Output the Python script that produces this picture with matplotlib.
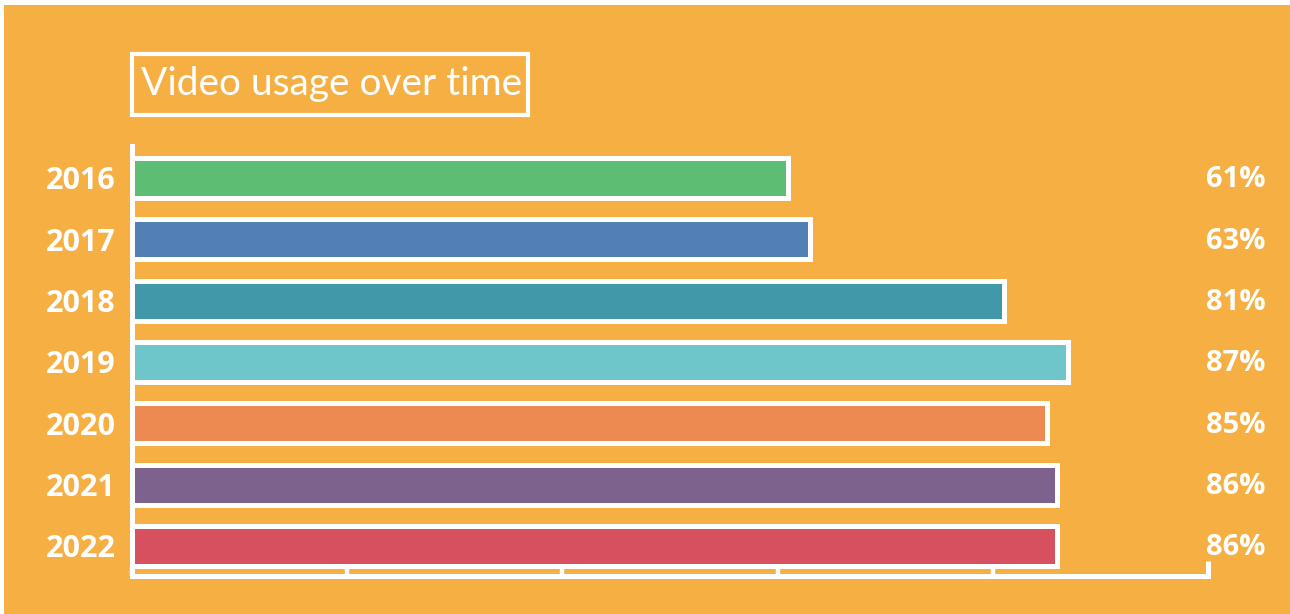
import matplotlib.pyplot as plt
from matplotlib.patches import Rectangle

# data
YEARS = ["2016", "2017", "2018", "2019", "2020", "2021", "2022"]
USAGE = [61, 63, 81, 87, 85, 86, 86]
BAR_COLORS = ["#5DBD73", "#527FB5", "#4098A8", "#6EC5CA", "#EC8A52", "#7C628C", "#D6505F"]
TITLE = "Video usage over time"

BG = "#F5AF43"
W, H = 1290, 614

fig = plt.figure(figsize=(W / 100, H / 100), dpi=100, facecolor=BG)

# thin white strips at the top and left edge, like the screenshot
fig.patches.append(Rectangle((0, 1 - 5 / H), 1, 5 / H, transform=fig.transFigure,
                             facecolor="white", edgecolor="none"))
fig.patches.append(Rectangle((0, 0), 3.5 / W, 1, transform=fig.transFigure,
                             facecolor="white", edgecolor="none"))

# axes: x from 0 to 100 spans px 132..1208, y spans px 146..576
ax = fig.add_axes([132 / W, 1 - 576 / H, (1208 - 132) / W, (576 - 146) / H])
ax.set_facecolor(BG)

ypos = list(range(len(YEARS)))
ax.barh(ypos, USAGE, height=0.65, color=BAR_COLORS, edgecolor="white",
        linewidth=3.6, zorder=3)

ax.set_xlim(0, 100)
ax.set_ylim(6.49, -0.52)

for s in ["top", "right"]:
    ax.spines[s].set_visible(False)
for s in ["left", "bottom"]:
    ax.spines[s].set_color("white")
    ax.spines[s].set_linewidth(3.6)
    ax.spines[s].set_capstyle("projecting")

ax.set_yticks(ypos)
ax.set_yticklabels(YEARS, fontsize=22, fontweight="bold", color="white",
                   family=["Open Sans", "DejaVu Sans"])
ax.tick_params(axis="y", length=0, pad=12)

ax.set_xticks([0, 20, 40, 60, 80])
ax.set_xticklabels([])
ax.set_xticks([100], minor=True)
ax.tick_params(axis="x", which="major", direction="in", length=7, width=3.2, color="white")
ax.tick_params(axis="x", which="minor", direction="in", length=11, width=3.6, color="white")

for y, v in zip(ypos, USAGE):
    ax.text(99.8, y + 0.03, f"{v}%", ha="left", va="center", fontsize=21,
            fontweight="bold", color="white",
            family=["Open Sans", "DejaVu Sans"], clip_on=False)

# title in a white box
fig.patches.append(Rectangle((132 / W, 1 - 115 / H), (528 - 132) / W, (115 - 54) / H,
                             transform=fig.transFigure, facecolor="none",
                             edgecolor="white", linewidth=3))
fig.text(141 / W, 1 - 84 / H, TITLE, ha="left", va="center", fontsize=28,
         color="white", family=["Lato", "DejaVu Sans"])

fig.savefig("out.png", dpi=100, facecolor=BG)
